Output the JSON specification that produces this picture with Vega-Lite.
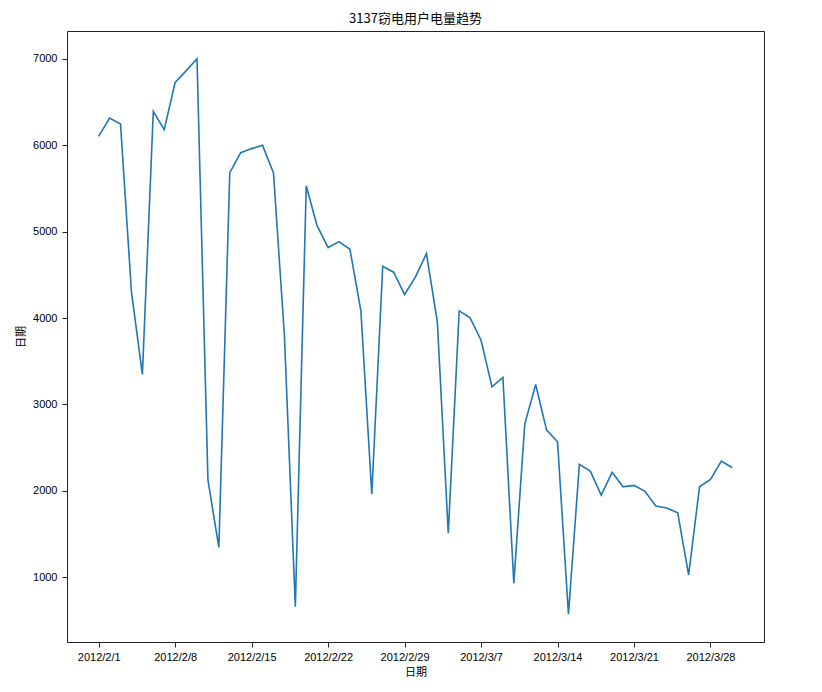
{
  "$schema": "https://vega.github.io/schema/vega-lite/v6.json",
  "width": 697,
  "height": 611,
  "autosize": "none",
  "padding": {"left": 67, "top": 31, "right": 58, "bottom": 50},
  "background": "white",
  "title": {"text": "3137窃电用户电量趋势", "font": "Noto Sans CJK SC", "fontSize": 13, "fontWeight": "normal", "color": "#000", "offset": 5, "anchor": "middle"},
  "config": {
    "view": {"stroke": "#222", "strokeWidth": 1},
    "axis": {"grid": false, "domain": false, "tickColor": "#222", "tickSize": 5, "labelFont": "Liberation Sans", "labelFontSize": 11, "labelColor": "#000", "titleFont": "Noto Sans CJK SC", "titleFontSize": 11, "titleFontWeight": "normal", "titleColor": "#000"}
  },
  "data": {"values": [
    {"date": "2012-02-01", "value": 6102},
    {"date": "2012-02-02", "value": 6313},
    {"date": "2012-02-03", "value": 6244},
    {"date": "2012-02-04", "value": 4302},
    {"date": "2012-02-05", "value": 3347},
    {"date": "2012-02-06", "value": 6391},
    {"date": "2012-02-07", "value": 6179},
    {"date": "2012-02-08", "value": 6726},
    {"date": "2012-02-09", "value": 6860},
    {"date": "2012-02-10", "value": 7000},
    {"date": "2012-02-11", "value": 2125},
    {"date": "2012-02-12", "value": 1347},
    {"date": "2012-02-13", "value": 5682},
    {"date": "2012-02-14", "value": 5913},
    {"date": "2012-02-15", "value": 5960},
    {"date": "2012-02-16", "value": 5998},
    {"date": "2012-02-17", "value": 5678},
    {"date": "2012-02-18", "value": 3800},
    {"date": "2012-02-19", "value": 660},
    {"date": "2012-02-20", "value": 5527},
    {"date": "2012-02-21", "value": 5065},
    {"date": "2012-02-22", "value": 4815},
    {"date": "2012-02-23", "value": 4884},
    {"date": "2012-02-24", "value": 4795},
    {"date": "2012-02-25", "value": 4082},
    {"date": "2012-02-26", "value": 1963},
    {"date": "2012-02-27", "value": 4599},
    {"date": "2012-02-28", "value": 4530},
    {"date": "2012-02-29", "value": 4272},
    {"date": "2012-03-01", "value": 4475},
    {"date": "2012-03-02", "value": 4746},
    {"date": "2012-03-03", "value": 3955},
    {"date": "2012-03-04", "value": 1509},
    {"date": "2012-03-05", "value": 4082},
    {"date": "2012-03-06", "value": 4001},
    {"date": "2012-03-07", "value": 3743},
    {"date": "2012-03-08", "value": 3204},
    {"date": "2012-03-09", "value": 3312},
    {"date": "2012-03-10", "value": 931},
    {"date": "2012-03-11", "value": 2772},
    {"date": "2012-03-12", "value": 3231},
    {"date": "2012-03-13", "value": 2703},
    {"date": "2012-03-14", "value": 2568},
    {"date": "2012-03-15", "value": 572},
    {"date": "2012-03-16", "value": 2306},
    {"date": "2012-03-17", "value": 2229},
    {"date": "2012-03-18", "value": 1951},
    {"date": "2012-03-19", "value": 2214},
    {"date": "2012-03-20", "value": 2047},
    {"date": "2012-03-21", "value": 2063},
    {"date": "2012-03-22", "value": 1994},
    {"date": "2012-03-23", "value": 1824},
    {"date": "2012-03-24", "value": 1801},
    {"date": "2012-03-25", "value": 1747},
    {"date": "2012-03-26", "value": 1027},
    {"date": "2012-03-27", "value": 2047},
    {"date": "2012-03-28", "value": 2133},
    {"date": "2012-03-29", "value": 2345},
    {"date": "2012-03-30", "value": 2267}
  ]},
  "mark": {"type": "line", "color": "#1f77b4", "strokeWidth": 1.6},
  "encoding": {
    "x": {
      "field": "date", "type": "temporal", "title": "日期",
      "scale": {"type": "utc", "domain": [
        {"year": 2012, "month": 1, "date": 29, "hours": 2, "minutes": 24, "utc": true},
        {"year": 2012, "month": 4, "date": 1, "hours": 21, "minutes": 36, "utc": true}
      ]},
      "axis": {
        "values": [
          {"year": 2012, "month": 2, "date": 1, "utc": true},
          {"year": 2012, "month": 2, "date": 8, "utc": true},
          {"year": 2012, "month": 2, "date": 15, "utc": true},
          {"year": 2012, "month": 2, "date": 22, "utc": true},
          {"year": 2012, "month": 2, "date": 29, "utc": true},
          {"year": 2012, "month": 3, "date": 7, "utc": true},
          {"year": 2012, "month": 3, "date": 14, "utc": true},
          {"year": 2012, "month": 3, "date": 21, "utc": true},
          {"year": 2012, "month": 3, "date": 28, "utc": true}
        ],
        "labelExpr": "utcFormat(datum.value, '%Y/%-m/%-d')",
        "labelPadding": 4, "titlePadding": 4, "labelFlush": false, "labelOverlap": false
      }
    },
    "y": {
      "field": "value", "type": "quantitative", "title": "日期",
      "scale": {"domain": [251, 7321], "nice": false, "zero": false},
      "axis": {"values": [1000, 2000, 3000, 4000, 5000, 6000, 7000], "format": "d", "labelPadding": 5, "titlePadding": 6}
    }
  }
}
